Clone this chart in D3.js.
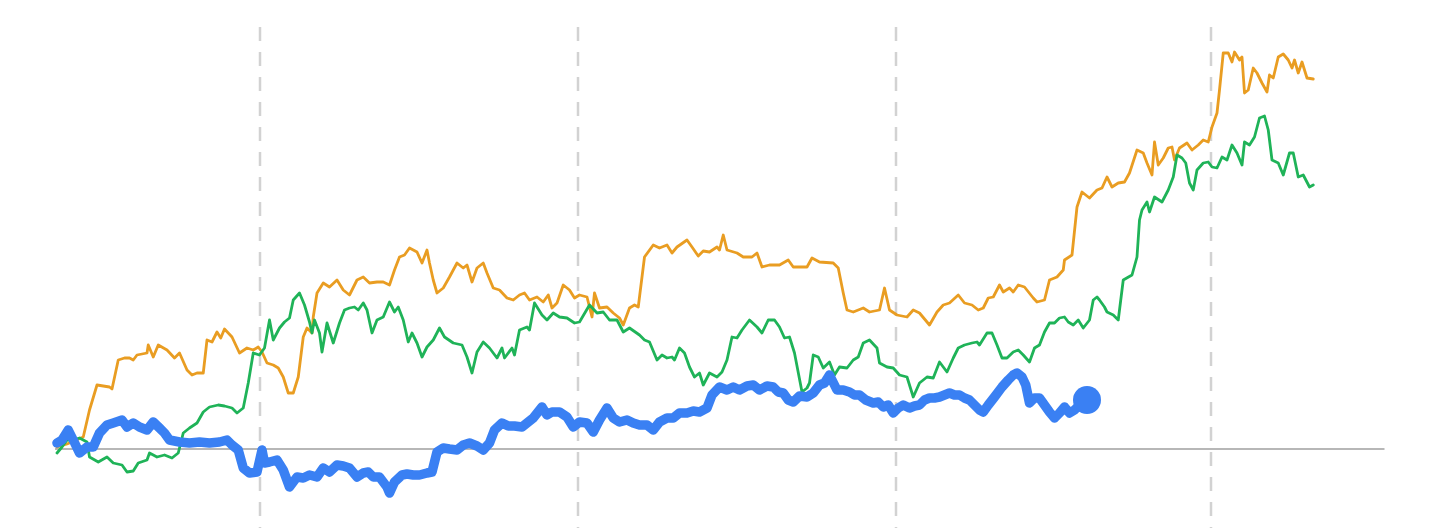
<!DOCTYPE html>
<html>
<head>
<meta charset="utf-8">
<script src="https://cdn.jsdelivr.net/npm/d3@7/dist/d3.min.js"></script>
<style>
  html, body { margin: 0; padding: 0; background: #ffffff; }
  svg { display: block; }
</style>
</head>
<body>
<svg id="chart" width="1440" height="528"></svg>
<script>
// x: trading days since start, y: % change since start
const gridDays = [162, 417, 671, 923];

const orange = [[0,0.5],[8,1.25],[21,3],[26,9.75],[32,16],[37,15.75],[42,15.5],[44,15],[49,22.25],[54,22.75],[58,22.75],[61,22.25],[64,23.5],[72,24],[73,26],[77,23],[81,26],[88,24.75],[94,22.75],[98,24],[104,19.75],[108,18.5],[112,19],[117,19],[120,27.25],[124,26.75],[128,29.25],[131,27.75],[134,30],[140,28],[146,24],[152,25.25],[157,24.75],[161,25.5],[164,24.25],[168,21.5],[173,21],[177,20.25],[181,18],[185,14],[189,14],[193,18],[197,28],[200,30.25],[204,29],[205,33],[208,39],[213,41.5],[218,40.5],[224,42.25],[229,39.75],[234,38.5],[240,42.25],[245,43],[250,41.5],[256,41.75],[261,41.75],[266,41],[270,44.75],[274,48],[278,48.5],[282,50.25],[288,49.25],[292,46.5],[296,49.75],[298,46.5],[301,42.25],[304,39],[309,40.25],[314,43],[320,46.5],[325,45.25],[328,46],[332,41.75],[336,45.25],[341,46.5],[344,44],[349,40.25],[354,39.75],[360,37.75],[365,37.25],[370,38.5],[374,39],[378,37.25],[384,38],[389,36.75],[393,38.5],[396,35.25],[400,36.5],[405,41],[410,39.75],[414,37.75],[418,38.5],[424,38],[428,33],[430,39],[434,35.25],[440,35.5],[445,34],[450,32.75],[453,31],[458,35.25],[462,36],[465,35.5],[470,48],[477,51],[482,50.25],[488,51],[492,49],[496,50.5],[504,52.25],[508,50.5],[513,48.25],[517,49.5],[522,49.25],[528,50.5],[530,49.75],[533,53.5],[536,49.75],[544,49],[549,48],[556,48],[560,49],[564,45.5],[570,46],[578,46],[585,47.25],[589,45.5],[600,45.5],[604,47.75],[610,46.75],[621,46.5],[625,45.25],[629,39],[632,34.75],[637,34.25],[645,35.25],[650,34.25],[658,34.75],[662,40.25],[666,34.75],[672,33.5],[680,33],[685,34.75],[690,34],[698,31],[704,34.25],[709,36],[714,36.5],[721,38.5],[726,36.5],[732,36],[737,34.75],[741,35.25],[745,37.75],[749,38],[754,41],[757,39.25],[762,40.25],[765,39.25],[769,41],[774,40.5],[781,37.75],[784,36.75],[790,37.25],[794,42.25],[800,43],[805,44.75],[806,47.25],[812,48.5],[816,60.5],[820,64.25],[826,62.75],[832,64.75],[836,65.25],[840,68],[844,65.5],[849,66.5],[854,66.75],[858,69],[864,74.75],[869,74],[872,71.5],[876,68.5],[878,76.75],[881,71],[885,72.75],[889,75.25],[892,75.5],[894,72.25],[898,75.25],[904,76.5],[908,74.75],[913,76],[917,77.25],[921,76.75],[924,80.5],[928,84],[930,89.75],[933,99],[937,99],[940,96.75],[942,99.25],[946,97.25],[948,98],[950,89],[953,89.75],[957,95.25],[960,94],[964,91.5],[968,89.25],[970,93.5],[973,92.75],[977,98],[981,98.75],[985,97.25],[988,95.25],[990,97.25],[993,94],[996,96.75],[1000,92.75],[1005,92.5]];

const green = [[0,-1],[4,0.5],[8,2.25],[13,2.25],[18,2.75],[24,1.75],[26,-2],[33,-3.25],[40,-2],[45,-3.5],[52,-4],[56,-5.75],[61,-5.5],[65,-3.5],[72,-2.75],[74,-1],[80,-2],[86,-1.5],[92,-2.25],[97,-1],[101,4],[106,5.25],[112,6.5],[117,9.25],[122,10.5],[129,11],[134,10.75],[140,10.25],[144,9],[149,10.25],[153,16.5],[157,24],[162,23.5],[166,25.25],[170,32.25],[173,27.25],[178,30.25],[182,31.75],[186,32.75],[189,37.25],[194,39],[198,36],[202,31.75],[204,29],[206,32.25],[210,29],[212,24.25],[216,31.5],[221,26.5],[226,31.5],[230,34.75],[234,35.25],[238,35.5],[241,34.75],[245,36.5],[248,34.75],[252,29],[256,32.25],[261,33],[266,36.75],[270,34.25],[273,35.5],[277,32.25],[281,26.75],[284,29],[288,26.5],[292,23],[296,25.5],[301,27.25],[306,30.25],[310,28],[317,26.5],[324,26],[328,23],[332,19],[336,24.25],[341,26.75],[346,25.25],[352,22.75],[356,25.25],[358,22.75],[364,25.25],[366,23.5],[370,29.75],[376,30.5],[378,29.75],[382,36.5],[388,33.5],[392,32.25],[397,34],[402,33],[408,32.75],[414,31.5],[418,31.75],[426,36],[432,34],[437,34.25],[442,32.25],[448,32.25],[453,29.25],[458,30.25],[466,28.5],[470,27.25],[474,26.75],[480,22.25],[484,23.5],[488,22.75],[492,23],[494,22.25],[498,25.25],[502,24],[506,20.5],[510,18],[514,19],[517,16],[522,19],[528,18],[532,19.25],[536,22.25],[540,28],[544,27.75],[548,29.75],[554,32.25],[560,30.5],[564,29],[569,32.25],[574,32.25],[578,30.5],[582,27.75],[586,28],[590,24],[596,14.25],[600,15.25],[602,16.5],[605,23.5],[609,23],[613,20.25],[618,21.75],[622,18.5],[626,20.5],[632,20.25],[637,22.25],[641,23],[645,26.5],[650,27.25],[656,25.25],[658,21.5],[664,20.5],[669,20.25],[674,18.5],[680,18],[685,13],[690,16.5],[696,18],[701,17.75],[706,21.75],[712,19.25],[717,22.75],[721,25.25],[726,26],[732,26.5],[736,26.75],[738,26],[744,29],[748,29],[752,26],[756,22.75],[760,22.75],[765,24.25],[769,24.75],[773,23.5],[778,21.75],[782,25.25],[786,26],[790,29.25],[794,31.5],[798,31.5],[802,32.75],[806,33],[809,31.75],[813,31],[817,32.25],[821,30.25],[826,32.25],[829,37.25],[832,38],[834,37.25],[838,35.5],[840,34.25],[845,33.5],[849,32.25],[853,42.25],[860,43.5],[864,48],[866,57.25],[868,59.75],[872,61.75],[874,59.25],[878,63],[884,61.75],[889,64.75],[893,68],[896,73.5],[900,72.75],[903,71.5],[906,66.5],[909,64.75],[912,69.75],[917,71.5],[921,71.75],[924,70.5],[928,70.25],[932,73],[936,72.25],[940,76],[944,74],[948,71],[950,76.75],[954,76],[958,78],[962,82.75],[966,83.25],[969,79.75],[972,72.25],[977,71.5],[981,68.5],[986,74],[989,74],[993,68],[997,68.5],[1002,65.5],[1005,66]];

const blue = [[0,1.5],[4,2.25],[9,4.75],[13,2.25],[18,-1],[24,0.5],[29,0.5],[34,4],[40,6],[45,6.5],[52,7.25],[56,5.5],[61,6.5],[66,5.5],[72,4.75],[77,6.75],[82,5.25],[86,4],[90,2.25],[98,1.75],[106,1.5],[114,1.75],[122,1.5],[130,1.75],[136,2.25],[140,1],[145,-0.25],[149,-4.75],[154,-6],[160,-5.75],[164,-0.25],[166,-3.5],[170,-3.25],[176,-2.75],[181,-5.25],[186,-9.5],[192,-7],[197,-7.25],[202,-6.5],[208,-7],[213,-4.75],[218,-5.75],[224,-4],[229,-4.25],[234,-4.75],[240,-7],[245,-6],[249,-5.75],[253,-7],[258,-7],[264,-9.5],[266,-11],[270,-8.25],[276,-6.5],[280,-6.25],[285,-6.5],[290,-6.5],[296,-6],[300,-5.75],[304,-0.75],[309,0.25],[314,0],[320,-0.25],[325,1],[330,1.5],[336,0.75],[341,-0.25],[346,1.5],[350,4.75],[356,6.5],[361,5.75],[366,5.75],[372,5.5],[376,6.5],[381,7.75],[388,10.5],[392,8.5],[396,9.25],[402,9.25],[408,8],[413,5.5],[418,6.75],[424,6.5],[429,4.25],[434,7.25],[440,10.25],[445,7.75],[450,6.75],[456,7.25],[461,6.5],[466,6],[472,6],[477,4.75],[482,6.75],[488,7.75],[493,7.75],[498,9],[504,9],[509,9.5],[514,9.25],[520,10.25],[524,13.5],[530,15.5],[536,14.75],[541,15.5],[546,14.75],[552,15.75],[557,16],[562,14.75],[568,15.75],[573,15.5],[577,14.25],[581,14],[585,12.25],[589,11.75],[594,13.25],[600,13],[605,14],[610,16],[614,16.5],[618,18.5],[622,16],[624,14.75],[629,14.75],[634,14.25],[638,13.5],[642,13.5],[647,12.25],[653,11.5],[657,11.75],[661,10.5],[665,11],[669,9],[673,10.25],[677,11],[682,10.25],[686,10.75],[690,11],[694,12.25],[698,12.75],[702,12.75],[706,13],[710,13.5],[714,14],[718,13.5],[722,13.5],[726,12.75],[730,12.25],[734,11],[738,9.75],[741,9.25],[745,11],[750,13],[756,15.5],[761,17.25],[765,18.5],[768,19],[772,18],[775,16],[778,11.5],[782,12.75],[786,12.75],[790,11],[794,9.25],[798,7.75],[802,9],[806,10.5],[810,9],[814,9.75],[818,11],[824,12.25]];

const seriesColors = { orange: "#E99D22", green: "#1FB358", blue: "#3A80F3" };

const svg = d3.select("#chart");
const x = d3.scaleLinear().domain([0, 1062]).range([57, 1384.5]);
const y = d3.scaleLinear().domain([-20, 100]).range([529, 49]);

// dashed vertical gridlines
svg.append("g").selectAll("line").data(gridDays).join("line")
  .attr("x1", d => Math.round(x(d))).attr("x2", d => Math.round(x(d)))
  .attr("y1", 27).attr("y2", 528)
  .attr("stroke", "#d2d2d2").attr("stroke-width", 2.5)
  .attr("stroke-dasharray", "14,11");

// zero baseline
svg.append("line")
  .attr("x1", x(0) - 2).attr("x2", x(1062))
  .attr("y1", y(0)).attr("y2", y(0))
  .attr("stroke", "#b7b7b7").attr("stroke-width", 2);

const line = d3.line().x(d => x(d[0])).y(d => y(d[1])).curve(d3.curveLinear);

svg.append("path").datum(orange).attr("d", line)
  .attr("fill", "none").attr("stroke", seriesColors.orange)
  .attr("stroke-width", 2.8).attr("stroke-linejoin", "round").attr("stroke-linecap", "round");

svg.append("path").datum(green).attr("d", line)
  .attr("fill", "none").attr("stroke", seriesColors.green)
  .attr("stroke-width", 2.8).attr("stroke-linejoin", "round").attr("stroke-linecap", "round");

svg.append("path").datum(blue).attr("d", line)
  .attr("fill", "none").attr("stroke", seriesColors.blue)
  .attr("stroke-width", 9.5).attr("stroke-linejoin", "round").attr("stroke-linecap", "round");

const last = blue[blue.length - 1];
svg.append("circle")
  .attr("cx", x(last[0])).attr("cy", y(last[1])).attr("r", 14)
  .attr("fill", seriesColors.blue);
</script>
</body>
</html>
